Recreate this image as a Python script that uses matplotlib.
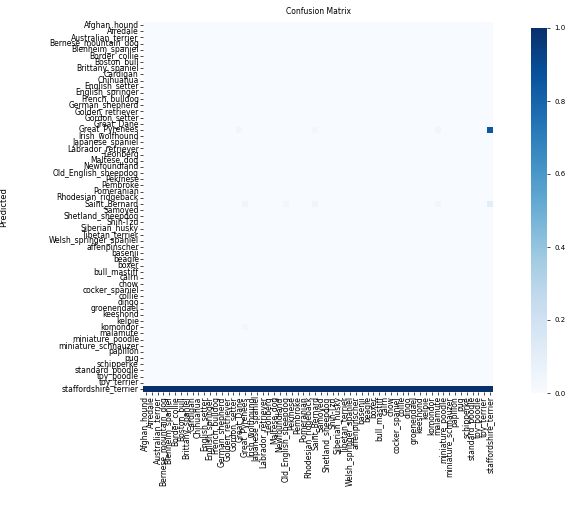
import numpy as np
import matplotlib
matplotlib.use("Agg")
import matplotlib.pyplot as plt
import seaborn as sns

# Class names (sorted as the classifier's label encoder orders them)
class_names = [
    "Afghan_hound", "Airedale", "Australian_terrier",
    "Bernese_mountain_dog", "Blenheim_spaniel", "Border_collie", "Boston_bull",
    "Brittany_spaniel", "Cardigan", "Chihuahua", "English_setter",
    "English_springer", "French_bulldog", "German_shepherd", "Golden_retriever",
    "Gordon_setter", "Great_Dane", "Great_Pyrenees", "Irish_wolfhound",
    "Japanese_spaniel", "Labrador_retriever", "Leonberg", "Maltese_dog",
    "Newfoundland", "Old_English_sheepdog", "Pekinese", "Pembroke",
    "Pomeranian", "Rhodesian_ridgeback", "Saint_Bernard", "Samoyed",
    "Shetland_sheepdog", "Shih-Tzu", "Siberian_husky", "Tibetan_terrier",
    "Welsh_springer_spaniel", "affenpinscher", "basenji", "beagle", "boxer",
    "bull_mastiff", "cairn", "chow", "cocker_spaniel", "collie", "dingo",
    "groenendael", "keeshond", "kelpie", "komondor", "malamute",
    "miniature_poodle", "miniature_schnauzer", "papillon", "pug",
    "schipperke", "standard_poodle", "toy_poodle", "toy_terrier",
    "staffordshire_terrier",
]

# Non-zero entries of the normalised confusion matrix: (row, column, value)
nonzero_rows = [17, 17, 17, 17, 29, 29, 29, 29, 29, 49]
nonzero_cols = [16, 29, 50, 59, 17, 24, 29, 50, 59, 17]
nonzero_vals = [0.04, 0.03, 0.04, 0.85, 0.05, 0.03, 0.05, 0.04, 0.10, 0.03]
last_row_value = 1.0

n = len(class_names)
cm = np.zeros((n, n))
cm[n - 1, :] = last_row_value
for r, c, v in zip(nonzero_rows, nonzero_cols, nonzero_vals):
    cm[r, c] = v

fig = plt.figure(figsize=(5.66, 5.18), dpi=100)
W, H = 566, 518
ax = fig.add_axes([143 / W, 1 - 392 / H, 350 / W, 370 / H])
cax = fig.add_axes([531 / W, 1 - 393 / H, 16 / W, 365 / H])

sns.heatmap(cm, ax=ax, cbar_ax=cax, cmap="Blues", vmin=0, vmax=1,
            xticklabels=class_names, yticklabels=class_names)

ax.set_title("Confusion Matrix", fontsize=5.5, pad=6)
ax.set_ylabel("Predicted", fontsize=6)
ax.yaxis.set_label_coords(-0.385, 0.5)
ax.tick_params(axis="both", labelsize=5.5, length=2, width=0.5, pad=1)
plt.setp(ax.get_xticklabels(), rotation=90)
plt.setp(ax.get_yticklabels(), rotation=0)
cax.tick_params(labelsize=5, length=2, width=0.5)

fig.savefig("out.png", dpi=100)
